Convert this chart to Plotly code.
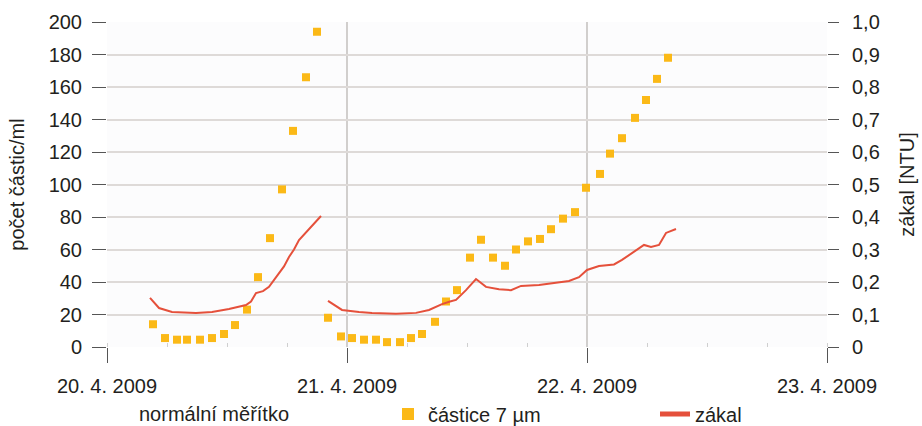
import pandas as pd
import plotly.graph_objects as go

# --- data -------------------------------------------------------------
START = pd.Timestamp("2009-04-20 00:00")

# particle counts (7 µm), hours after 20. 4. 2009 00:00 -> particles/ml
particle_hours = [4.6, 5.8, 7.0, 8.0, 9.3, 10.5, 11.7, 12.8, 14.0, 15.1, 16.3, 17.5,
                  18.6, 19.9, 21.0,
                  22.1, 23.4, 24.5, 25.7, 26.9, 28.0, 29.3, 30.4, 31.5, 32.8, 33.9,
                  35.0, 36.3, 37.4, 38.6, 39.8, 40.9, 42.1, 43.3, 44.4, 45.6, 46.8,
                  47.9, 49.3, 50.3, 51.5, 52.8, 53.9, 55.0, 56.1]
particle_counts = [14, 5.5, 4.5, 4.5, 4.5, 5.5, 8, 13.5, 23, 43, 67, 97,
                   133, 166, 194,
                   18, 6.5, 5.5, 4.5, 4.5, 3, 3, 5.5, 8, 15.5, 28,
                   35, 55, 66, 55, 50, 60, 65, 66.5, 72.5, 79, 83,
                   98, 106.5, 119, 128.5, 141, 152, 165, 178]

# turbidity [NTU]; None separates the two filter runs
turbidity_hours = [4.3, 5.2, 6.5, 8.9, 10.5, 12.2, 13.9, 14.4, 14.9, 15.6, 16.2, 16.7,
                   17.2, 17.7, 18.2, 18.7, 19.2, 19.8, 20.4, 20.9, 21.4,
                   None,
                   22.1, 23.5, 25.2, 26.5, 28.9, 30.9, 32.2, 33.5, 34.3, 34.9, 35.9,
                   36.9, 37.9, 39.2, 40.4, 41.4, 43.2, 44.5, 46.2, 47.2, 48.0, 49.2,
                   50.7, 51.5, 52.9, 53.7, 54.4, 55.2, 55.9, 56.9]
turbidity_ntu = [0.151, 0.120, 0.108, 0.105, 0.108, 0.117, 0.129, 0.140, 0.166, 0.172, 0.185, 0.205,
                 0.228, 0.248, 0.277, 0.300, 0.329, 0.350, 0.370, 0.388, 0.403,
                 None,
                 0.142, 0.114, 0.108, 0.105, 0.102, 0.105, 0.114, 0.132, 0.140, 0.145, 0.175,
                 0.209, 0.185, 0.178, 0.175, 0.188, 0.191, 0.197, 0.203, 0.215, 0.237, 0.249,
                 0.254, 0.268, 0.298, 0.314, 0.308, 0.314, 0.351, 0.363]

day_ticks = ["2009-04-20", "2009-04-21", "2009-04-22", "2009-04-23"]
day_labels = ["20. 4. 2009", "21. 4. 2009", "22. 4. 2009", "23. 4. 2009"]
left_ticks = list(range(0, 201, 20))
right_ticks = [i / 10 for i in range(11)]
right_labels = ["0", "0,1", "0,2", "0,3", "0,4", "0,5", "0,6", "0,7", "0,8", "0,9", "1,0"]


def to_time(hours):
    return [None if h is None else START + pd.Timedelta(hours=h) for h in hours]


# --- styling ------------------------------------------------------------
FONT = "Liberation Sans, Arial, Helvetica, sans-serif"
TEXT = "#231f20"
YELLOW = "#fbb917"
RED = "#e5503b"
GRID = "#dedad8"
TICK = "#555555"

# figure / plot area in pixels, used to place the legend row below the plot
W, H = 922, 426
PLOT_L, PLOT_W = 107, 720
LEGEND_ROW = 414          # vertical centre of the legend row (px from top)


def px_x(px):
    return (px - PLOT_L) / PLOT_W


fig = go.Figure()

fig.add_trace(go.Scatter(
    x=to_time(particle_hours), y=particle_counts,
    mode="markers", name="částice 7 µm",
    marker=dict(symbol="square", size=8, color=YELLOW, line=dict(width=0)),
    yaxis="y", legend="legend",
))
fig.add_trace(go.Scatter(
    x=to_time(turbidity_hours), y=turbidity_ntu,
    mode="lines", name="zákal",
    line=dict(color=RED, width=2),
    connectgaps=False,
    yaxis="y2", legend="legend2",
))

# day separators inside the plot
for d in day_ticks[1:3]:
    fig.add_shape(type="line", xref="x", yref="paper", x0=d, x1=d, y0=0, y1=1,
                  line=dict(color="#b4b0ae", width=1.2), layer="below")

fig.add_annotation(
    text="normální měřítko", xref="paper", yref="paper",
    x=px_x(137), y=-(LEGEND_ROW - 347) / 325, xanchor="left", yanchor="middle",
    showarrow=False, font=dict(family=FONT, size=20, color=TEXT),
)

legend_common = dict(
    orientation="h", yref="container", yanchor="middle", xanchor="left",
    y=1 - LEGEND_ROW / H,
    font=dict(family=FONT, size=20, color=TEXT),
    bgcolor="rgba(0,0,0,0)", borderwidth=0, itemsizing="constant",
)

fig.update_layout(
    width=W, height=H,
    margin=dict(l=107, r=95, t=22, b=79, autoexpand=False),
    paper_bgcolor="white", plot_bgcolor="#fcfcfd",
    font=dict(family=FONT, size=20, color=TEXT),
    showlegend=True,
    legend=dict(x=px_x(388), **legend_common),
    legend2=dict(x=px_x(655), **legend_common),
    xaxis=dict(
        type="date",
        range=[day_ticks[0], day_ticks[-1]],
        tickmode="array", tickvals=day_ticks, ticktext=day_labels,
        ticks="outside", ticklen=15, tickwidth=1.2, tickcolor=TICK,
        ticklabelstandoff=6,
        showgrid=False, zeroline=False, showline=False,
        minor=dict(dtick=6 * 3600 * 1000, ticks="inside", ticklen=4,
                   tickcolor="#cfcfcf", showgrid=False),
    ),
    yaxis=dict(
        title=dict(text="počet částic/ml", standoff=18,
                   font=dict(family=FONT, size=20, color=TEXT)),
        range=[0, 200], tickmode="array", tickvals=left_ticks,
        ticks="outside", ticklen=14, tickwidth=1.2, tickcolor=TICK,
        ticklabelstandoff=6,
        showgrid=True, gridcolor=GRID, gridwidth=2,
        zeroline=False, showline=False,
    ),
    yaxis2=dict(
        title=dict(text="zákal [NTU]", standoff=21,
                   font=dict(family=FONT, size=20, color=TEXT)),
        overlaying="y", side="right",
        range=[0, 1], tickmode="array", tickvals=right_ticks, ticktext=right_labels,
        ticks="outside", ticklen=11, tickwidth=1.2, tickcolor=TICK,
        ticklabelstandoff=9,
        showgrid=False, zeroline=False, showline=False,
    ),
)

fig.write_html("out.html")
